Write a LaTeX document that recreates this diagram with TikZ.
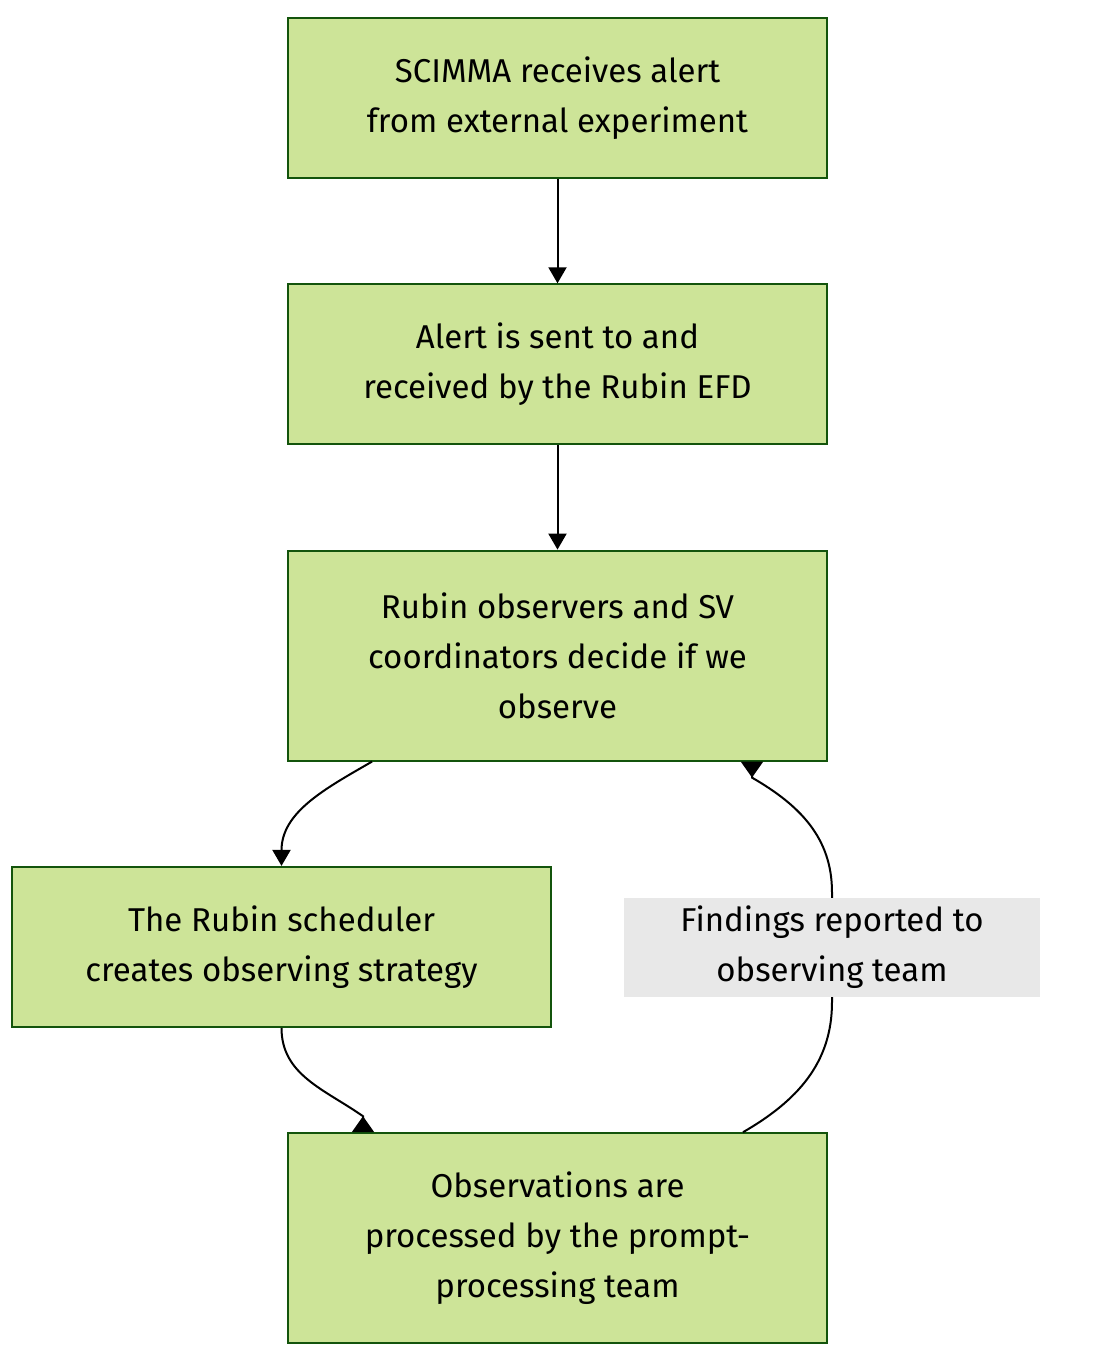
\documentclass[tikz,border=0pt]{standalone}
\usepackage{fontspec}
\setmainfont{Fira Sans}
\usetikzlibrary{positioning, arrows.meta}
\definecolor{boxfill}{HTML}{CDE498}
\definecolor{boxline}{HTML}{13540C}
\definecolor{labelgray}{HTML}{E8E8E8}

\begin{document}
\begin{tikzpicture}[
    node distance=104.3pt,
    every node/.style={font=\fontsize{33}{50}\selectfont, align=center},
    stagebox/.style={draw=boxline, fill=boxfill, line width=2pt, minimum width=539pt, minimum height=160pt, inner sep=0pt},
    tallbox/.style={stagebox, minimum height=210pt},
    findings/.style={fill=labelgray, minimum width=416pt, minimum height=99pt, inner sep=0pt},
    flow/.style={line width=2pt, -{Triangle[width=18pt, length=16pt]}},
    backflow/.style={line width=2pt, -{Triangle[reversed, width=22pt, length=16pt]}}
]

   \useasboundingbox (0,0) rectangle (1105pt,-1361pt);

   % Stages
   \node[stagebox] (alert) at (557.5pt,-98pt) {SCIMMA receives alert\\from external experiment};
   \node[stagebox] (efd) [below=of alert] {Alert is sent to and\\received by the Rubin EFD};
   \node[tallbox] (decide) [below=of efd] {Rubin observers and SV\\coordinators decide if we\\observe};
   \node[stagebox] (sched) [below=of decide, xshift=-276pt] {The Rubin scheduler\\creates observing strategy};
   \node[tallbox] (prompt) [below=of sched, xshift=276pt] {Observations are\\processed by the prompt-\\processing team};

   % Transitions
   \draw[flow] (alert) -- (efd);
   \draw[flow] (efd) -- (decide);
   \draw[flow] ([xshift=-185.5pt]decide.south) to[out=-150, in=90] (sched.north);
   \draw[backflow] (sched.south) to[out=-90, in=145] ([xshift=-194.5pt, yshift=16pt]prompt.north)
      -- ([xshift=-194.5pt]prompt.north);
   \draw[backflow] ([xshift=185.5pt]prompt.north) to[out=30, in=-90] ++(89pt,130pt)
      -- ++(0,110pt) node[midway, findings] {Findings reported to\\observing team}
      to[out=90, in=-30] ([xshift=194.5pt, yshift=-16pt]decide.south)
      -- ([xshift=194.5pt]decide.south);

\end{tikzpicture}
\end{document}
